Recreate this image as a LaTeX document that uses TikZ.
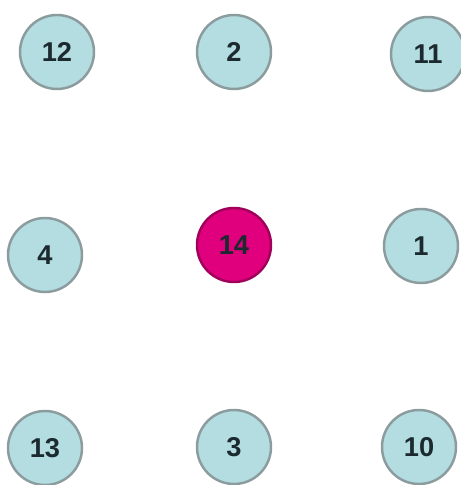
\documentclass[tikz,border=0pt]{standalone}
\usepackage{fontspec}
\setmainfont{Liberation Sans}
\definecolor{cellfill}{HTML}{B3DDE1}
\definecolor{cellline}{HTML}{8C9C9E}
\definecolor{hubfill}{HTML}{E0007E}
\definecolor{hubline}{HTML}{A0005A}
\definecolor{labeltext}{HTML}{1C2A30}
\tikzset{
  cell/.style={circle, draw=cellline, fill=cellfill, line width=1.4pt,
    minimum size=1.48cm, inner sep=0pt, text=labeltext,
    font=\fontsize{15.5}{18}\selectfont\bfseries},
  hub/.style={cell, draw=hubline, fill=hubfill}
}
\begin{document}
\begin{tikzpicture}
        \useasboundingbox (0,0) rectangle (9.2,9.7);
        % Top row
        \node[cell] (c12) at (1.14, 8.66) {12};
        \node[cell] (c2)  at (4.68, 8.66) {2};
        \node[cell] (c11) at (8.56, 8.62) {11};
        
        % Middle row
        \node[cell] (c4)  at (0.90, 4.60) {4};
        \node[hub]  (c14) at (4.68, 4.80) {14};
        \node[cell] (c1)  at (8.42, 4.78) {1};
        
        % Bottom row
        \node[cell] (c13) at (0.90, 0.74) {13};
        \node[cell] (c3)  at (4.68, 0.76) {3};
        \node[cell] (c10) at (8.38, 0.76) {10};
    \end{tikzpicture}
\end{document}
